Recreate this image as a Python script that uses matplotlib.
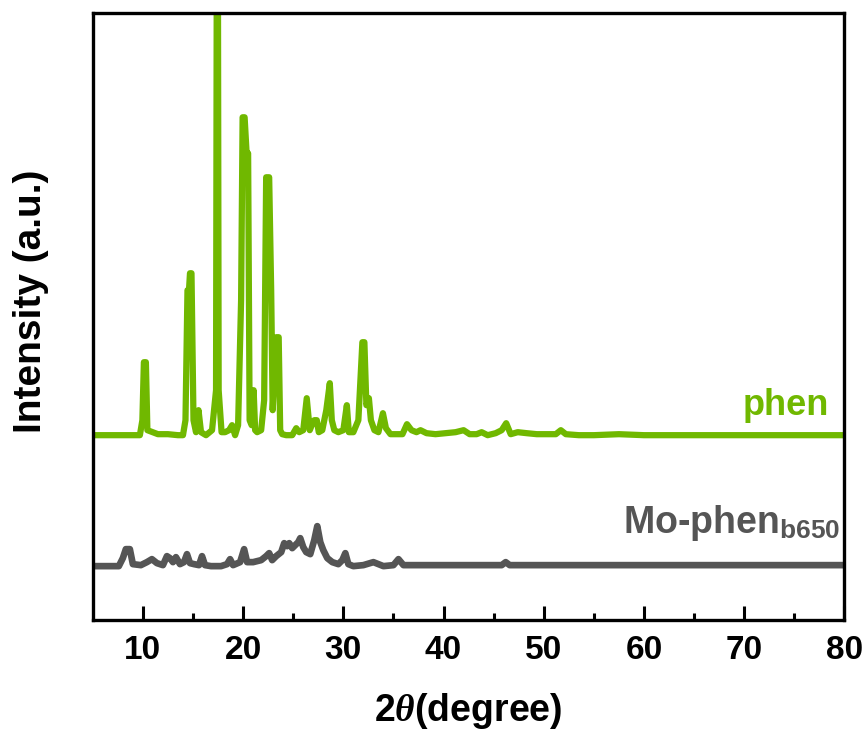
import matplotlib
matplotlib.use("Agg")
import matplotlib.pyplot as plt

plt.rcParams['font.family'] = ['Liberation Sans', 'DejaVu Sans']
plt.rcParams['font.weight'] = 'bold'
plt.rcParams['mathtext.fontset'] = 'custom'
plt.rcParams['mathtext.rm'] = 'Liberation Sans:bold'
plt.rcParams['mathtext.bf'] = 'Liberation Sans:bold'
plt.rcParams['mathtext.it'] = 'Liberation Serif:italic'

# phen pattern (2theta, intensity in arbitrary offset units)
phen_x = [5.0, 9.7, 9.95, 10.1, 10.3, 10.45, 11.5, 12.5, 13.5, 14.0, 14.25, 14.45, 14.6, 14.7, 14.85,
          15.05, 15.3, 15.55, 15.8, 16.3, 16.9, 17.3, 17.38, 17.48, 17.56, 17.85, 18.2, 18.6, 18.9, 19.2,
          19.5, 19.8, 19.95, 20.15, 20.35, 20.5, 20.65, 20.85, 21.05, 21.2, 21.4, 21.8, 22.1, 22.3,
          22.6, 22.8, 22.95, 23.1, 23.3, 23.55, 23.7, 23.9, 24.3, 24.9, 25.3, 25.6, 26.0, 26.35,
          26.65, 26.85, 27.1, 27.35, 27.55, 27.9, 28.3, 28.65, 28.85, 29.1, 29.5, 30.0, 30.35, 30.55,
          31.0, 31.5, 31.9, 32.1, 32.3, 32.55, 32.75, 33.1, 33.5, 33.95, 34.25, 34.7, 35.4, 35.9,
          36.35, 36.8, 37.3, 37.7, 38.3, 39.2, 40.2, 41.2, 42.0, 42.6, 43.3, 43.8, 44.4, 45.2,
          45.8, 46.25, 46.7, 47.4, 48.3, 49.3, 50.3, 51.2, 51.7, 52.2, 53.5, 55.0, 57.5, 60.0,
          65.0, 70.0, 75.0, 80.0]
phen_y = [185, 185, 200, 258, 258, 190, 186, 186, 185, 185, 200, 330, 330, 347, 347,
          200, 188, 210, 188, 185, 190, 230, 700, 700, 230, 188, 188, 190, 195, 185,
          195, 320, 503, 503, 467, 467, 200, 195, 230, 190, 188, 190, 220, 443,
          443, 330, 210, 240, 283, 283, 190, 186, 185, 185, 192, 188, 190, 222,
          190, 195, 200, 200, 188, 190, 210, 237, 200, 190, 188, 190, 215, 188,
          188, 200, 278, 278, 215, 222, 200, 190, 188, 207, 192, 186, 186, 186,
          196, 190, 188, 190, 187, 186, 187, 188, 190, 186, 186, 188, 185, 187,
          190, 197, 186, 188, 187, 186, 186, 186, 190, 186, 185, 185, 186, 185,
          185, 185, 185, 185]

# Mo-phen_b650 pattern
mo_x = [5.0, 7.6, 8.0, 8.3, 8.7, 9.0, 9.8, 10.4, 10.9, 11.4, 12.0, 12.4, 12.7, 13.0, 13.3,
        13.7, 14.1, 14.4, 14.7, 15.1, 15.6, 15.9, 16.2, 16.8, 17.8, 18.4, 18.7, 19.0, 19.7,
        20.1, 20.4, 21.0, 21.8, 22.3, 22.6, 22.9, 23.3, 23.8, 24.1, 24.4, 24.6, 24.9, 25.2,
        25.5, 25.7, 26.0, 26.3, 26.7, 27.1, 27.4, 27.7, 28.0, 28.4, 28.9, 29.5, 29.9, 30.2,
        30.5, 31.0, 32.0, 33.0, 34.0, 35.0, 35.5, 36.0, 38.0, 40.0, 43.0, 45.8, 46.2, 46.6, 50.0,
        55.0, 60.0, 65.0, 70.0, 75.0, 80.0]
mo_y = [54, 54, 62, 71, 71, 56, 55, 58, 61, 57, 55, 64, 62, 58, 63,
        56, 58, 66, 57, 56, 55, 64, 55, 54, 54, 56, 61, 55, 58,
        71, 58, 58, 60, 64, 67, 60, 64, 68, 77, 74, 77, 72, 75,
        78, 82, 73, 68, 66, 80, 94, 78, 70, 62, 58, 56, 60, 67,
        56, 54, 55, 58, 54, 55, 61, 55, 55, 55, 55, 55, 58, 55, 55,
        55, 55, 55, 55, 55, 55]

green = '#70B800'
gray = '#555555'

fig = plt.figure(figsize=(8.67, 7.40), dpi=100)
ax = fig.add_axes([0.107, 0.162, 0.867, 0.820])

ax.plot(mo_x, mo_y, color=gray, lw=4.8, solid_joinstyle='round')
ax.plot(phen_x, phen_y, color=green, lw=4.5, solid_joinstyle='round')

ax.set_xlim(5, 80)
ax.set_ylim(0, 607)
ax.set_xticks(range(10, 81, 10))
ax.set_xticks(range(15, 80, 10), minor=True)
ax.set_yticks([])
ax.tick_params(axis='x', which='major', direction='in', length=10, width=2.2,
               labelsize=24, pad=11)
ax.tick_params(axis='x', which='minor', direction='in', length=5, width=2.2)
for lab in ax.get_xticklabels():
    lab.set_fontweight('bold')
for s in ax.spines.values():
    s.set_linewidth(2.4)

ax.set_xlabel(r'2$\theta$(degree)', fontsize=27, fontweight='bold', labelpad=18)
ax.set_ylabel('Intensity (a.u.)', fontsize=28, fontweight='bold')
ax.yaxis.set_label_coords(-0.058, 0.525)

ax.text(78.5, 215, 'phen', color=green, fontsize=26, fontweight='bold',
        ha='right', va='center')
ax.text(79.6, 97, r'Mo-phen$_{\mathbf{b650}}$', color=gray, fontsize=27,
        fontweight='bold', ha='right', va='center')

fig.savefig('out.png', dpi=100)
